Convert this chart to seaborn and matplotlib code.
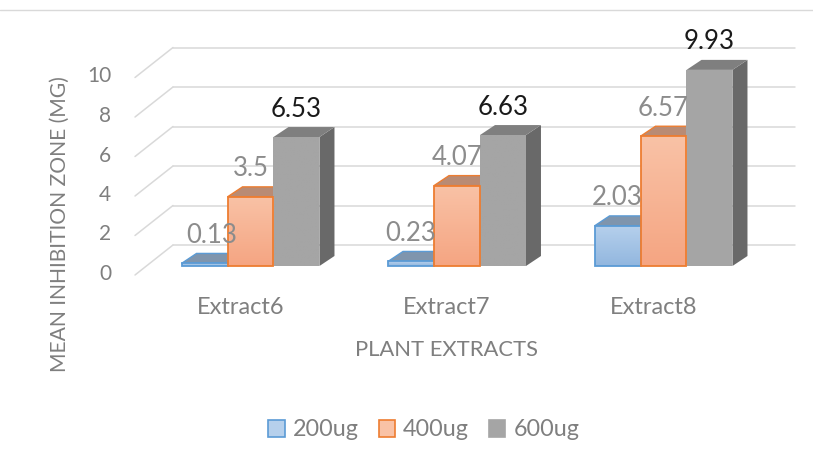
import matplotlib
matplotlib.use("Agg")
import matplotlib.pyplot as plt
import numpy as np
import pandas as pd
import seaborn as sns
from matplotlib.lines import Line2D
from matplotlib.patches import Patch, Polygon
from matplotlib.transforms import ScaledTranslation

extracts = ["Extract6", "Extract7", "Extract8"]
doses = ["200ug", "400ug", "600ug"]
values_200 = [0.13, 0.23, 2.03]
values_400 = [3.5, 4.07, 6.57]
values_600 = [6.53, 6.63, 9.93]
y_ticks = [0, 2, 4, 6, 8, 10]

edge_colors = ["#5b9bd5", "#ed7d31", "#a5a5a5"]
top_colors = ["#7f95ad", "#b98b74", "#7f7f7f"]
side_colors = ["#5f7f9f", "#a8714f", "#696969"]
grad_top = ["#b6d0ec", "#f9c2a6", "#a5a5a5"]
grad_bottom = ["#92b7df", "#f5a582", "#a5a5a5"]
label_colors = ["#8c8c8c", "#8c8c8c", "#1a1a1a"]

W, H = 813, 471
PX_X = 206.5   # pixels per category
PX_Y = 19.75   # pixels per y unit

sns.set_style("white")
plt.rcParams["font.family"] = ["Lato", "DejaVu Sans"]

df = pd.DataFrame({
    "extract": extracts * 3,
    "dose": np.repeat(doses, 3),
    "value": values_200 + values_400 + values_600,
})

fig = plt.figure(figsize=(W / 100, H / 100), dpi=100)
ax = fig.add_axes([135 / W, 1 - 275 / H, 660 / W, 258 / H])
ax.patch.set_alpha(0)

sns.barplot(data=df, x="extract", y="value", hue="dose", order=extracts, hue_order=doses,
            palette=edge_colors, width=0.668, gap=0, saturation=1, legend=False, ax=ax)

xlim = ((135 - 250.5) / PX_X, (795 - 250.5) / PX_X)
ylim = (-9 / PX_Y, (266 - 17) / PX_Y)

# back wall and left side wall
wall_dx = 38 / PX_X
wall_dy = 30 / PX_Y
floor = -9 / PX_Y
for v in y_ticks:
    ax.plot([xlim[0], xlim[0] + wall_dx], [floor + v, floor + v + wall_dy],
            color="#d9d9d9", lw=1.1, zorder=1, clip_on=False)
    ax.plot([xlim[0] + wall_dx, xlim[1]], [floor + v + wall_dy] * 2,
            color="#d9d9d9", lw=1.1, zorder=1, clip_on=False)

# fake 3d faces, built from the seaborn bars
depth_x = 15 / PX_X
depth_y = 10 / PX_Y
front_z = [3.0, 3.2, 3.1]
bars = list(ax.patches)
for i, bar in enumerate(bars):
    hue = i // 3
    x0, w, h = bar.get_x(), bar.get_width(), bar.get_height()
    x1 = x0 + w
    top = Polygon([(x0, h), (x1, h), (x1 + depth_x, h + depth_y), (x0 + depth_x, h + depth_y)],
                  facecolor=top_colors[hue], edgecolor=edge_colors[hue] if hue < 2 else "none",
                  lw=1.0, zorder=2 + hue * 0.1)
    side = Polygon([(x1, 0), (x1 + depth_x, depth_y), (x1 + depth_x, h + depth_y), (x1, h)],
                   facecolor=side_colors[hue], edgecolor="none", zorder=2 + hue * 0.1)
    ax.add_patch(side)
    ax.add_patch(top)

    cmap = matplotlib.colors.LinearSegmentedColormap.from_list("g", [grad_top[hue], grad_bottom[hue]])
    im = ax.imshow(np.linspace(0, 1, 64).reshape(-1, 1), extent=(x0, x1, 0, h), origin="upper",
                   cmap=cmap, aspect="auto", zorder=front_z[hue])
    bar.set_facecolor("none")
    bar.set_edgecolor(edge_colors[hue] if hue < 2 else "none")
    bar.set_linewidth(1.3)
    bar.set_zorder(front_z[hue] + 0.05)
    im.set_clip_path(bar)

    dx = 7 if h == values_200[0] else 0
    ax.annotate(f"{h:g}", (x0 + w / 2, h), xytext=(dx * 0.72, 28 * 0.72), textcoords="offset points",
                ha="center", va="center", fontsize=18.5, color=label_colors[hue], zorder=6)

ax.set_xlim(xlim)
ax.set_ylim(ylim)
sns.despine(ax=ax, left=True, bottom=True)

ax.set_yticks(y_ticks)
ax.tick_params(axis="y", length=0, pad=17, labelsize=15, labelcolor="#7f7f7f")
ax.tick_params(axis="x", length=0, pad=16, labelsize=17, labelcolor="#7f7f7f")
for lab in ax.get_yticklabels():
    lab.set_transform(lab.get_transform() + ScaledTranslation(0, -6 / 100, fig.dpi_scale_trans))
for lab in ax.get_xticklabels():
    lab.set_transform(lab.get_transform() + ScaledTranslation(-10 / 100, 0, fig.dpi_scale_trans))

ax.set_xlabel("PLANT EXTRACTS", fontsize=15.8, color="#7f7f7f", va="center")
ax.xaxis.set_label_coords((446 - 135) / 660, (275 - 350) / 258)
ax.set_ylabel("MEAN INHIBITION ZONE (MG)", fontsize=15.2, color="#7f7f7f", va="center")
ax.yaxis.set_label_coords((60 - 135) / 660, (275 - 224) / 258)

handles = [Patch(facecolor=grad_top[i], edgecolor=edge_colors[i], lw=1.2) for i in range(3)]
fig.legend(handles, doses, loc="center", bbox_to_anchor=(424 / W, 1 - 430 / H), ncol=3, frameon=False,
           fontsize=16.8, labelcolor="#7f7f7f", handlelength=0.7, handleheight=0.7,
           handletextpad=0.35, columnspacing=0.85)

# thin line along the top of the picture
fig.add_artist(Line2D([0, 1], [1 - 10 / H] * 2, color="#d9d9d9", lw=1))

fig.savefig("out.png", dpi=100)
